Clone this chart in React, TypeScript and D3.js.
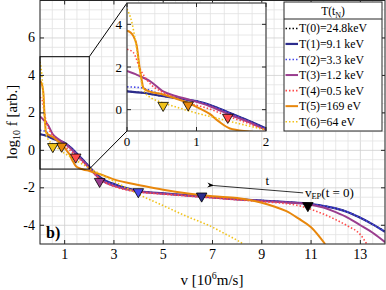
import * as d3 from "d3";
import { useEffect, useRef } from "react";

type Pt = [number, number];

// v [10^6 m/s] , log10 f
const t0: Pt[] = [[0, 0.86], [0.25, 0.78], [0.5, 0.64], [0.75, 0.52], [1.0, 0.4], [1.25, 0.15], [1.5, -0.18], [1.75, -0.52], [2.0, -0.88], [2.25, -1.22], [2.5, -1.5], [3.0, -1.8], [3.5, -2.02], [4.0, -2.17], [5, -2.3], [6, -2.4], [7, -2.5], [8, -2.6], [9, -2.68], [10, -2.76], [11, -2.87], [12, -3.1], [12.5, -3.3], [13, -3.6], [13.5, -3.95], [14, -4.33]];
const t1: Pt[] = [[0, 0.86], [0.25, 0.78], [0.5, 0.64], [0.75, 0.52], [1.0, 0.4], [1.25, 0.15], [1.5, -0.18], [1.75, -0.52], [2.0, -0.88], [2.25, -1.22], [2.5, -1.5], [3.0, -1.8], [3.5, -2.02], [4.0, -2.17], [5, -2.3], [6, -2.4], [7, -2.5], [8, -2.6], [9, -2.68], [10, -2.76], [11, -2.87], [12, -3.1], [12.5, -3.3], [13, -3.6], [13.5, -3.95], [14, -4.35]];
const t2: Pt[] = [[0, 1.07], [0.2, 1.03], [0.4, 0.82], [0.55, 0.66], [0.75, 0.53], [1.0, 0.4], [1.25, 0.14], [1.5, -0.2], [1.75, -0.54], [2.0, -0.9], [2.25, -1.25], [2.5, -1.53], [3.0, -1.82], [3.5, -2.04], [4.0, -2.18], [5, -2.31], [6, -2.41], [7, -2.51], [8, -2.6], [9, -2.68], [10, -2.76], [11, -2.87], [12, -3.1], [12.5, -3.3], [13, -3.6], [13.5, -3.95], [14, -4.33]];
const t3: Pt[] = [[0, 1.81], [0.15, 1.62], [0.33, 1.34], [0.52, 0.86], [0.7, 0.64], [0.88, 0.48], [1.2, 0.15], [1.48, -0.24], [1.75, -0.58], [2.0, -0.95], [2.5, -1.6], [3.0, -1.9], [3.5, -2.08], [4, -2.2], [5, -2.32], [6, -2.42], [7, -2.52], [8, -2.62], [9, -2.7], [10, -2.78], [11, -2.9], [11.5, -3.05], [12, -3.3], [12.5, -3.6], [13, -4.0], [13.5, -4.4], [14, -4.9]];
const t4: Pt[] = [[0, 2.83], [0.09, 2.68], [0.19, 1.9], [0.3, 1.34], [0.52, 0.8], [0.7, 0.55], [0.88, 0.32], [1.2, 0.02], [1.45, -0.31], [1.75, -0.65], [2.0, -0.98], [2.5, -1.6], [3, -1.92], [4, -2.22], [5, -2.34], [6, -2.44], [7, -2.54], [8, -2.64], [9, -2.74], [10, -2.85], [10.5, -2.95], [11, -3.15], [11.5, -3.4], [12, -3.7], [12.5, -4.05], [13, -4.5], [13.26, -5]];
const t5: Pt[] = [[0, 3.7], [0.05, 3.62], [0.09, 3.46], [0.14, 3.0], [0.18, 2.0], [0.21, 1.42], [0.235, 1.02], [0.3, 0.88], [0.52, 0.71], [0.7, 0.52], [0.88, 0.32], [1.05, 0.05], [1.19, -0.2], [1.32, -0.55], [1.48, -0.88], [1.75, -1.02], [2.0, -1.1], [2.5, -1.3], [3, -1.55], [3.5, -1.72], [4, -1.85], [5, -2.1], [6, -2.3], [7, -2.45], [8, -2.55], [8.5, -2.65], [9, -2.8], [9.5, -3.0], [10, -3.25], [10.5, -3.65], [11, -4.1], [11.57, -5]];
const t6: Pt[] = [[0, 4.72], [0.07, 4.09], [0.14, 2.83], [0.21, 1.27], [0.26, 0.8], [0.35, 0.55], [0.52, 0.32], [0.75, 0.08], [1.0, -0.16], [1.25, -0.36], [1.48, -0.55], [1.75, -0.76], [2.0, -0.95], [2.5, -1.3], [3, -1.65], [3.5, -2.0], [4, -2.35], [5, -2.95], [6, -3.55], [7, -4.1], [7.5, -4.45], [8, -4.8], [8.25, -5.0]];

const seriesData = [t0, t1, t2, t3, t4, t5, t6];
const legendNames = ["T(0)=24.8keV", "T(1)=9.1 keV", "T(2)=3.3 keV", "T(3)=1.2 keV", "T(4)=0.5 keV", "T(5)=169 eV", "T(6)=64 eV"];

// v_EP marker of every time slice
const vEP = [10.87, 6.56, 3.99, 2.42, 1.45, 0.88, 0.52];
const fEP = [-2.95, -2.44, -2.21, -1.66, -0.36, 0.22, 0.2];

const xTicks = [1, 3, 5, 7, 9, 11, 13];
const yTicks = [-4, -2, 0, 2, 4, 6];
const insetXTicks = [0, 1, 2];
const insetYTicks = [0, 2, 4];

const styles = [
    { color: "#000000", dash: "1.5,2", width: 1.5 },
    { color: "#2c2c8c", dash: null, width: 2.2 },
    { color: "#4848e8", dash: "1.5,2", width: 1.6 },
    { color: "#9a3d8e", dash: null, width: 2 },
    { color: "#ff4a4a", dash: "1.5,2", width: 1.6 },
    { color: "#e8870c", dash: null, width: 2 },
    { color: "#f0c21a", dash: "1.5,2", width: 1.6 },
];

const FONT = "'Liberation Serif', 'Times New Roman', serif";

function drawGrid(g: any, x: any, y: any, xStep: number, yStep: number, xMajor: number[], yMajor: number[]) {
    const [x0, x1] = x.domain();
    const [y0, y1] = y.domain();
    const xs = d3.range(Math.round(x0 / xStep), Math.round(x1 / xStep) + 1).map(i => i * xStep);
    const ys = d3.range(Math.round(y0 / yStep), Math.round(y1 / yStep) + 1).map(i => i * yStep);
    const isMajor = (v: number, arr: number[]) => arr.some(a => Math.abs(a - v) < 1e-6);
    xs.forEach(v => {
        g.append("line")
            .attr("x1", x(v)).attr("x2", x(v))
            .attr("y1", y.range()[0]).attr("y2", y.range()[1])
            .attr("stroke", isMajor(v, xMajor) ? "#cfcfcf" : "#e2e2e2")
            .attr("stroke-width", 0.8);
    });
    ys.forEach(v => {
        g.append("line")
            .attr("y1", y(v)).attr("y2", y(v))
            .attr("x1", x.range()[0]).attr("x2", x.range()[1])
            .attr("stroke", isMajor(v, yMajor) ? "#cfcfcf" : "#e2e2e2")
            .attr("stroke-width", 0.8);
    });
}

function drawFrame(g: any, x: any, y: any, xt: number[], yt: number[], fontSize: number) {
    const [l, r] = x.range();
    const [b, t] = y.range();
    g.append("rect")
        .attr("x", l).attr("y", t).attr("width", r - l).attr("height", b - t)
        .attr("fill", "none").attr("stroke", "#262626").attr("stroke-width", 1);
    xt.forEach(v => {
        g.append("line").attr("x1", x(v)).attr("x2", x(v)).attr("y1", b).attr("y2", b - 4).attr("stroke", "#262626");
        g.append("line").attr("x1", x(v)).attr("x2", x(v)).attr("y1", t).attr("y2", t + 4).attr("stroke", "#262626");
        g.append("text").attr("x", x(v)).attr("y", b + 15)
            .attr("text-anchor", "middle").attr("font-size", fontSize).attr("font-family", FONT)
            .text(v);
    });
    yt.forEach(v => {
        g.append("line").attr("y1", y(v)).attr("y2", y(v)).attr("x1", l).attr("x2", l + 4).attr("stroke", "#262626");
        g.append("line").attr("y1", y(v)).attr("y2", y(v)).attr("x1", r).attr("x2", r - 4).attr("stroke", "#262626");
        g.append("text").attr("x", l - 5).attr("y", y(v) + 4.5)
            .attr("text-anchor", "end").attr("font-size", fontSize).attr("font-family", FONT)
            .text(v < 0 ? "-" + Math.abs(v) : v);
    });
}

function drawCurves(g: any, x: any, y: any, clipId: string) {
    const line = d3.line<Pt>()
        .x(d => x(d[0]))
        .y(d => y(d[1]))
        .curve(d3.curveMonotoneX);
    const cg = g.append("g").attr("clip-path", `url(#${clipId})`);
    seriesData.forEach((pts, i) => {
        const s = styles[i];
        cg.append("path")
            .attr("d", line(pts))
            .attr("fill", "none")
            .attr("stroke", s.color)
            .attr("stroke-width", s.width)
            .attr("stroke-dasharray", s.dash)
            .attr("stroke-linejoin", "round");
    });
    const tri = d3.symbol().type(d3.symbolTriangle).size(48);
    vEP.forEach((v, i) => {
        cg.append("path")
            .attr("d", tri())
            .attr("transform", `translate(${x(v)},${y(fEP[i])}) rotate(180)`)
            .attr("fill", styles[i].color)
            .attr("stroke", "#000")
            .attr("stroke-width", 0.8);
    });
}

function drawChart(svgEl: SVGSVGElement) {
    const svg = d3.select(svgEl);
    svg.selectAll("*").remove();

    const x = d3.scaleLinear().domain([0, 14]).range([40, 385]);
    const y = d3.scaleLinear().domain([-5, 8]).range([244, 0.5]);
    const xi = d3.scaleLinear().domain([0, 2]).range([127, 266]);
    const yi = d3.scaleLinear().domain([-1, 5]).range([131, 3]);

    const defs = svg.append("defs");
    defs.append("clipPath").attr("id", "clipMain").append("rect")
        .attr("x", 40).attr("y", 0).attr("width", 345).attr("height", 244);
    defs.append("clipPath").attr("id", "clipInset").append("rect")
        .attr("x", 127).attr("y", 3).attr("width", 139).attr("height", 128);
    defs.append("marker").attr("id", "arrowHead")
        .attr("viewBox", "0 0 10 10").attr("refX", 1).attr("refY", 5)
        .attr("markerWidth", 9).attr("markerHeight", 9).attr("orient", "auto")
        .append("path").attr("d", "M10,1.5 L0,5 L10,8.5 L7,5 Z").attr("fill", "#000");

    svg.append("rect").attr("width", 386).attr("height", 290).attr("fill", "#fff");

    // main panel
    const main = svg.append("g");
    drawGrid(main, x, y, 0.5, 0.5, xTicks, yTicks);
    drawCurves(main, x, y, "clipMain");
    drawFrame(main, x, y, xTicks, yTicks, 14);

    // zoom rectangle and connectors
    main.append("rect")
        .attr("x", x(0)).attr("y", y(5)).attr("width", x(2) - x(0)).attr("height", y(-1) - y(5))
        .attr("fill", "none").attr("stroke", "#000").attr("stroke-width", 1);
    main.append("line").attr("x1", x(2)).attr("y1", y(5)).attr("x2", xi(0)).attr("y2", yi(5)).attr("stroke", "#000");
    main.append("line").attr("x1", x(2)).attr("y1", y(-1)).attr("x2", xi(0)).attr("y2", yi(-1)).attr("stroke", "#000");

    // annotation
    main.append("line")
        .attr("x1", x(10.68)).attr("y1", y(-2.27))
        .attr("x2", x(7.05)).attr("y2", y(-1.88))
        .attr("stroke", "#000").attr("stroke-width", 0.8)
        .attr("marker-end", "url(#arrowHead)");
    main.append("text").attr("x", x(9.15)).attr("y", y(-1.83))
        .attr("font-size", 13).attr("font-family", FONT).text("t");
    const vt = main.append("text").attr("x", x(10.75)).attr("y", y(-2.48))
        .attr("font-size", 13).attr("font-family", FONT);
    vt.append("tspan").text("v");
    vt.append("tspan").attr("font-size", 8.5).attr("dy", 2.5).text("EP");
    vt.append("tspan").attr("dy", -2.5).text("(t = 0)");

    main.append("text").attr("x", 46).attr("y", 238)
        .attr("font-size", 16).attr("font-weight", "bold").attr("font-family", FONT).text("b)");

    // axis labels
    const xl = svg.append("text").attr("x", 212).attr("y", 285)
        .attr("text-anchor", "middle").attr("font-size", 15).attr("font-family", FONT);
    xl.append("tspan").text("v [10");
    xl.append("tspan").attr("font-size", 10).attr("dy", -6).text("6");
    xl.append("tspan").attr("dy", 6).text("m/s]");

    const yl = svg.append("text").attr("transform", "translate(17,122) rotate(-90)")
        .attr("text-anchor", "middle").attr("font-size", 15).attr("font-family", FONT);
    yl.append("tspan").text("log");
    yl.append("tspan").attr("font-size", 10).attr("dy", 3).text("10");
    yl.append("tspan").attr("dy", -3).text(" f [arb.]");

    // inset
    const inset = svg.append("g");
    inset.append("rect").attr("x", 127).attr("y", 3).attr("width", 139).attr("height", 128).attr("fill", "#fff");
    drawGrid(inset, xi, yi, 0.2, 0.5, insetXTicks, insetYTicks);
    drawCurves(inset, xi, yi, "clipInset");
    drawFrame(inset, xi, yi, insetXTicks, insetYTicks, 13);

    // legend
    const lg = svg.append("g");
    lg.append("rect").attr("x", 284).attr("y", 2).attr("width", 98).attr("height", 129)
        .attr("fill", "#fff").attr("stroke", "#262626").attr("stroke-width", 1);
    lg.append("line").attr("x1", 284).attr("x2", 382).attr("y1", 19).attr("y2", 19)
        .attr("stroke", "#262626").attr("stroke-width", 1);
    const head = lg.append("text").attr("x", 333).attr("y", 15)
        .attr("text-anchor", "middle").attr("font-size", 11.5).attr("font-family", FONT);
    head.append("tspan").text("T(t");
    head.append("tspan").attr("font-size", 8).attr("dy", 2.5).text("N");
    head.append("tspan").attr("dy", -2.5).text(")");
    legendNames.forEach((name, i) => {
        const cy = 28.4 + i * 15.55;
        const s = styles[i];
        lg.append("line").attr("x1", 285.5).attr("x2", 298).attr("y1", cy).attr("y2", cy)
            .attr("stroke", s.color).attr("stroke-width", s.width)
            .attr("stroke-dasharray", s.dash);
        lg.append("text").attr("x", 299).attr("y", cy + 4)
            .attr("font-size", 11.8).attr("font-family", FONT).text(name);
    });
}

export default function App() {
    const svgRef = useRef<SVGSVGElement>(null);
    useEffect(() => {
        if (svgRef.current) drawChart(svgRef.current);
    }, []);
    return (
        <svg ref={svgRef} width={386} height={290}
            style={{ position: "absolute", left: 0, top: 0 }} />
    );
}
